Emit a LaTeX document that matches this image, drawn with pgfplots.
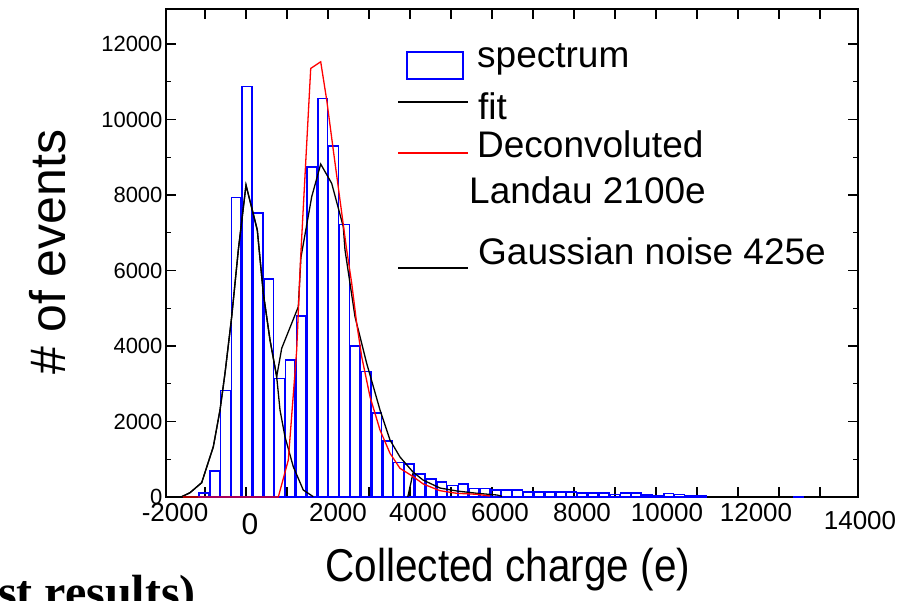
\documentclass[border=0pt]{standalone}
\usepackage{fontspec}
\setmainfont{Liberation Sans}
\newfontfamily\timesfont{Liberation Serif}
\usepackage{pgfplots}
\usepackage{pgfplotstable}
\pgfplotsset{compat=1.18}

\pgfplotstableread{
x y
-1125 100
-875 690
-625 2820
-375 7940
-125 10870
125 7520
375 5770
625 3140
875 3630
1125 4800
1375 8750
1625 10560
1875 9300
2125 7220
2375 4000
2625 3320
2875 2220
3125 1490
3375 920
3625 870
3875 610
4125 480
4375 400
4625 310
4875 350
5125 220
5375 220
5625 185
5875 185
6125 185
6375 135
6625 135
6875 135
7125 135
7375 135
7625 100
7875 100
8125 100
8375 60
8625 100
8875 100
9125 50
9375 40
9625 90
9875 60
10125 30
10375 20
12625 15
}\spectrum

\begin{document}
\begin{tikzpicture}
\begin{axis}[
  at={(166pt,103pt)}, anchor=south west,
  scale only axis, width=692pt, height=488pt,
  xmin=-2000, xmax=14000, ymin=0, ymax=12930,
  axis line style={line width=1.5pt},
  xtick={-1098,-150,798,1746,2694,3642,4590,5538,6486,7434,8382,9330,10278,11226,12174,13122},
  xticklabels={},
  ytick={0,2000,4000,6000,8000,10000,12000},
  minor ytick={1000,3000,5000,7000,9000,11000},
  scaled y ticks=false, scaled x ticks=false,
  tick align=inside,
  major tick length=10pt, minor tick length=5pt,
  every tick/.style={black, line width=1.3pt},
  yticklabel style={font=\fontsize{22}{26}\selectfont},
  /pgf/number format/assume math mode=true,
  /pgf/number format/1000 sep={},
  clip=false,
]
\addplot[ybar, bar width=225, draw=blue, line width=1.5pt, fill=none] table {\spectrum};
% Gaussian noise
\addplot[black, line width=1.3pt] coordinates {
(-1838,0) (-1637,8) (-1445,114) (-1175,379) (-906,1332) (-751,2305) (-636,3277)
(-481,4776) (-328,6543) (-150,8265) (111,7073) (250,5396) (405,4159) (559,3187)
(636,2305) (751,1597) (943,803) (1174,185) (1406,8)
};
\addplot[black, line width=1.3pt] coordinates {(3590,0) (3711,628)};
% fit
\addplot[black, line width=1.3pt] coordinates {
(-1838,0) (-1637,8) (-1445,114) (-1175,379) (-906,1332) (-751,2305) (-636,3277)
(-481,4776) (-328,6543) (-150,8265) (111,7073) (250,5396) (405,4159) (559,3187)
(675,3939) (1059,5041) (1120,6350) (1369,7955) (1577,8821) (1831,8310) (2099,7160)
(2139,6543) (2370,4776) (2640,3542) (2948,2305) (3179,1510) (3410,1060) (3711,662)
(3942,450) (4335,238) (4728,159) (5191,98) (5653,53) (5769,19)
};
% deconvoluted Landau
\addplot[red, line width=1.3pt] coordinates {
(-1607,0) (597,0) (828,980) (1022,3894) (1110,6278) (1346,11356) (1577,11531)
(1716,10517) (1868,9192) (2023,7868) (2178,6543) (2294,5661) (2409,4601) (2525,3717)
(2717,2657) (2948,1775) (3179,1158) (3410,760) (3718,538) (3949,344) (4335,167)
(4721,98) (5184,72) (5491,26)
};
\end{axis}
% x tick labels
\begin{scope}[every node/.style={font=\fontsize{26}{30}\selectfont, inner sep=0pt}]
\node at (175pt,87pt) {-2000};
\node[font=\fontsize{30}{34}\selectfont] at (250pt,76pt) {0};
\node at (338pt,87pt) {2000};
\node at (418pt,87pt) {4000};
\node at (500pt,87pt) {6000};
\node at (582pt,87pt) {8000};
\node at (667pt,87pt) {10000};
\node at (756pt,87pt) {12000};
\node at (860pt,79pt) {14000};
\end{scope}
% axis titles
\node[rotate=90, font=\fontsize{50}{56}\selectfont, inner sep=0pt] at (48pt,348pt) {\# of events};
\node[font=\fontsize{46}{52}\selectfont, inner sep=0pt, xscale=0.88] at (508pt,30pt) {Collected charge (e)};
\node[font=\timesfont\bfseries\fontsize{48}{52}\selectfont, anchor=base east, inner sep=0pt] at (196pt,-8pt) {(first results)};
% legend
\draw[blue, line width=1.5pt] (407pt,521pt) rectangle (463pt,548pt);
\draw[black, line width=1.3pt] (398pt,498pt) -- (468pt,498pt);
\draw[red, line width=1.3pt] (398pt,447pt) -- (468pt,447pt);
\draw[black, line width=1.3pt] (398pt,332pt) -- (468pt,332pt);
\begin{scope}[every node/.style={font=\fontsize{37}{42}\selectfont, inner sep=0pt, anchor=base west}]
\node at (477pt,532pt) {spectrum};
\node at (478pt,480pt) {fit};
\node at (477pt,442pt) {Deconvoluted};
\node at (469pt,396pt) {Landau 2100e};
\node at (478pt,335pt) {Gaussian noise 425e};
\end{scope}
\pgfresetboundingbox
\path[use as bounding box] (0pt,0pt) rectangle (909pt,600pt);
\end{tikzpicture}
\end{document}
